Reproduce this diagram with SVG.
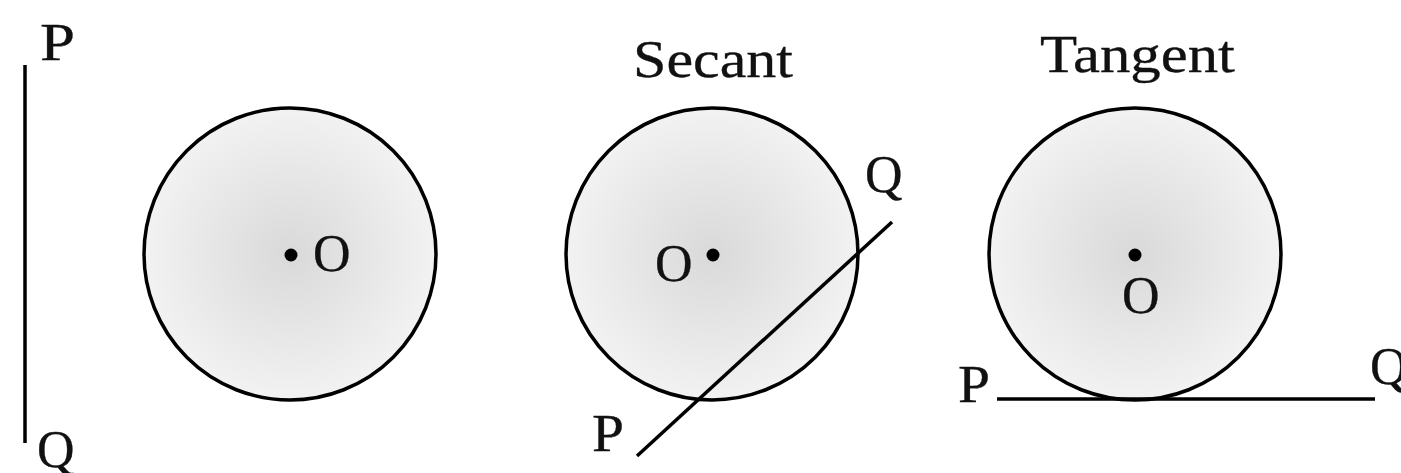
<svg xmlns="http://www.w3.org/2000/svg" width="1401" height="473" viewBox="0 0 1401 473">
<defs>
<radialGradient id="g" cx="50%" cy="50%" r="50%">
<stop offset="0" stop-color="#d9d9d9"/>
<stop offset="1" stop-color="#f2f2f2"/>
</radialGradient>
</defs>
<style>
.c{fill:url(#g);stroke:#000;stroke-width:3.5}
.l{stroke:#000;stroke-width:3.5;fill:none}
.d{fill:#000}
text{font-family:"Liberation Serif","DejaVu Serif",serif;font-size:52px;fill:#111;stroke:#111;stroke-width:0.3}
</style>
<rect width="1401" height="473" fill="#fff"/>
<g id="fig1">
<text x="40" y="60" textLength="35" lengthAdjust="spacingAndGlyphs">P</text>
<text x="37" y="467">Q</text>
<circle class="c" cx="290" cy="254" r="146"/>
<circle class="d" cx="291" cy="255" r="6.5"/>
<text x="313" y="271">O</text>
</g>
<g id="fig2">
<text x="633" y="77" textLength="160" lengthAdjust="spacingAndGlyphs">Secant</text>
<circle class="c" cx="712" cy="254" r="146"/>
<circle class="d" cx="713" cy="255" r="6.5"/>
<text x="655" y="281">O</text>
<text x="592" y="451" textLength="32" lengthAdjust="spacingAndGlyphs">P</text>
<text x="865" y="192">Q</text>
</g>
<g id="fig3">
<text x="1040" y="72" textLength="195" lengthAdjust="spacingAndGlyphs">Tangent</text>
<circle class="c" cx="1135" cy="254" r="146"/>
<circle class="d" cx="1135" cy="255" r="6.5"/>
<text x="1122" y="313">O</text>
<text x="958" y="402" textLength="32" lengthAdjust="spacingAndGlyphs">P</text>
<text x="1370" y="384">Q</text>
</g>
<g id="connectors">
<line class="l" x1="25" y1="65" x2="25" y2="443"/>
<line class="l" x1="637" y1="456" x2="892" y2="222"/>
<line class="l" x1="997" y1="399" x2="1375" y2="399"/>
</g>
</svg>
